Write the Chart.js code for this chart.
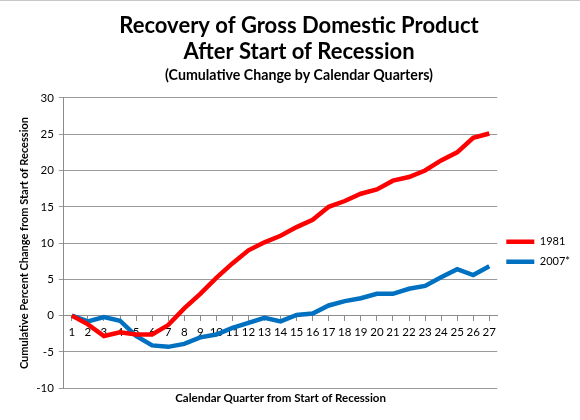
<!DOCTYPE html>
<html>
<head>
<meta charset="utf-8">
<script src="https://cdn.jsdelivr.net/npm/chart.js@4/dist/chart.umd.min.js"></script>
<style>
  html, body { margin: 0; padding: 0; background: #fff; }
  #wrap { width: 580px; height: 419px; border-top: 1px solid #c8c8c8; }
</style>
</head>
<body>
<div id="wrap"><canvas id="myChart" width="580" height="419"></canvas></div>
<script>
// quarters since start of recession
const quarters = ['1','2','3','4','5','6','7','8','9','10','11','12','13','14','15','16','17','18','19','20','21','22','23','24','25','26','27'];

// cumulative % change in GDP
const gdp1981 = [0, -1.2, -2.8, -2.3, -2.6, -2.6, -1.3, 1.0, 3.0, 5.2, 7.2, 9.0, 10.1, 11.0, 12.2, 13.2, 15.0, 15.8, 16.8, 17.4, 18.6, 19.1, 20.0, 21.4, 22.5, 24.5, 25.1];
const gdp2007 = [0, -0.8, -0.2, -0.7, -2.8, -4.1, -4.3, -3.9, -3.0, -2.6, -1.7, -1.0, -0.3, -0.8, 0.1, 0.3, 1.4, 2.0, 2.4, 3.0, 3.0, 3.7, 4.1, 5.3, 6.4, 5.6, 6.8];

const yMin = -10;
const yMax = 30;
const yStep = 5;

const font = 'Lato, "Open Sans", sans-serif';

const ctx = document.getElementById('myChart').getContext('2d');
new Chart(ctx, {
    type: 'line',
    data: {
        labels: quarters,
        datasets: [
            {
                label: '1981',
                data: gdp1981,
                borderColor: '#ff0000',
                backgroundColor: '#ff0000',
                borderWidth: 4.5,
                pointRadius: 0,
                tension: 0,
                xAxisID: 'x'
            },
            {
                label: '2007*',
                data: gdp2007,
                borderColor: '#0070c0',
                backgroundColor: '#0070c0',
                borderWidth: 4.5,
                pointRadius: 0,
                tension: 0,
                xAxisID: 'x'
            }
        ]
    },
    options: {
        responsive: false,
        animation: false,
        layout: { padding: { left: 18, right: 0, bottom: 15 } },
        plugins: {
            title: {
                display: true,
                text: ['Recovery of Gross Domestic Product', 'After Start of Recession'],
                color: '#000',
                font: { family: font, size: 22, weight: 'bold', lineHeight: 1.18 },
                padding: { top: 12, bottom: 0 }
            },
            subtitle: {
                display: true,
                text: '(Cumulative Change by Calendar Quarters)',
                color: '#000',
                font: { family: font, size: 14.2, weight: 'bold' },
                padding: { top: 2, bottom: 14 }
            },
            legend: {
                position: 'right',
                align: 'start',
                fullSize: false,
                // empty title only pushes the items down to mid-height
                title: { display: true, text: ' ', padding: { top: 115, bottom: 0 } },
                labels: {
                    usePointStyle: true,
                    pointStyle: 'line',
                    pointStyleWidth: 28,
                    color: '#000',
                    font: { family: font, size: 11 },
                    padding: 9
                }
            },
            tooltip: { enabled: false }
        },
        scales: {
            x: {
                type: 'category',
                position: { y: 0 },
                offset: true,
                grid: { drawOnChartArea: false, drawTicks: true, tickLength: 5, color: '#8c8c8c' },
                border: { color: '#8c8c8c' },
                ticks: { color: '#000', font: { family: font, size: 11.5 }, autoSkip: false, maxRotation: 0, padding: 5 }
            },
            x2: {
                type: 'category',
                position: 'bottom',
                grid: { display: false, drawTicks: false },
                border: { display: false },
                ticks: { display: false },
                title: {
                    display: true,
                    text: 'Calendar Quarter from Start of Recession',
                    color: '#000',
                    font: { family: font, size: 11.5, weight: 'bold' },
                    padding: { top: 3, bottom: 0 }
                }
            },
            y: {
                min: yMin,
                max: yMax,
                ticks: { stepSize: yStep, color: '#000', font: { family: font, size: 11.5 }, padding: 5 },
                grid: { color: '#9a9a9a', tickLength: 5 },
                border: { color: '#8c8c8c' },
                title: {
                    display: true,
                    text: 'Cumulative Percent Change from Start of Recession',
                    color: '#000',
                    font: { family: font, size: 11, weight: 'bold' },
                    padding: { top: 0, bottom: 0 }
                }
            }
        }
    }
});
</script>
</body>
</html>
